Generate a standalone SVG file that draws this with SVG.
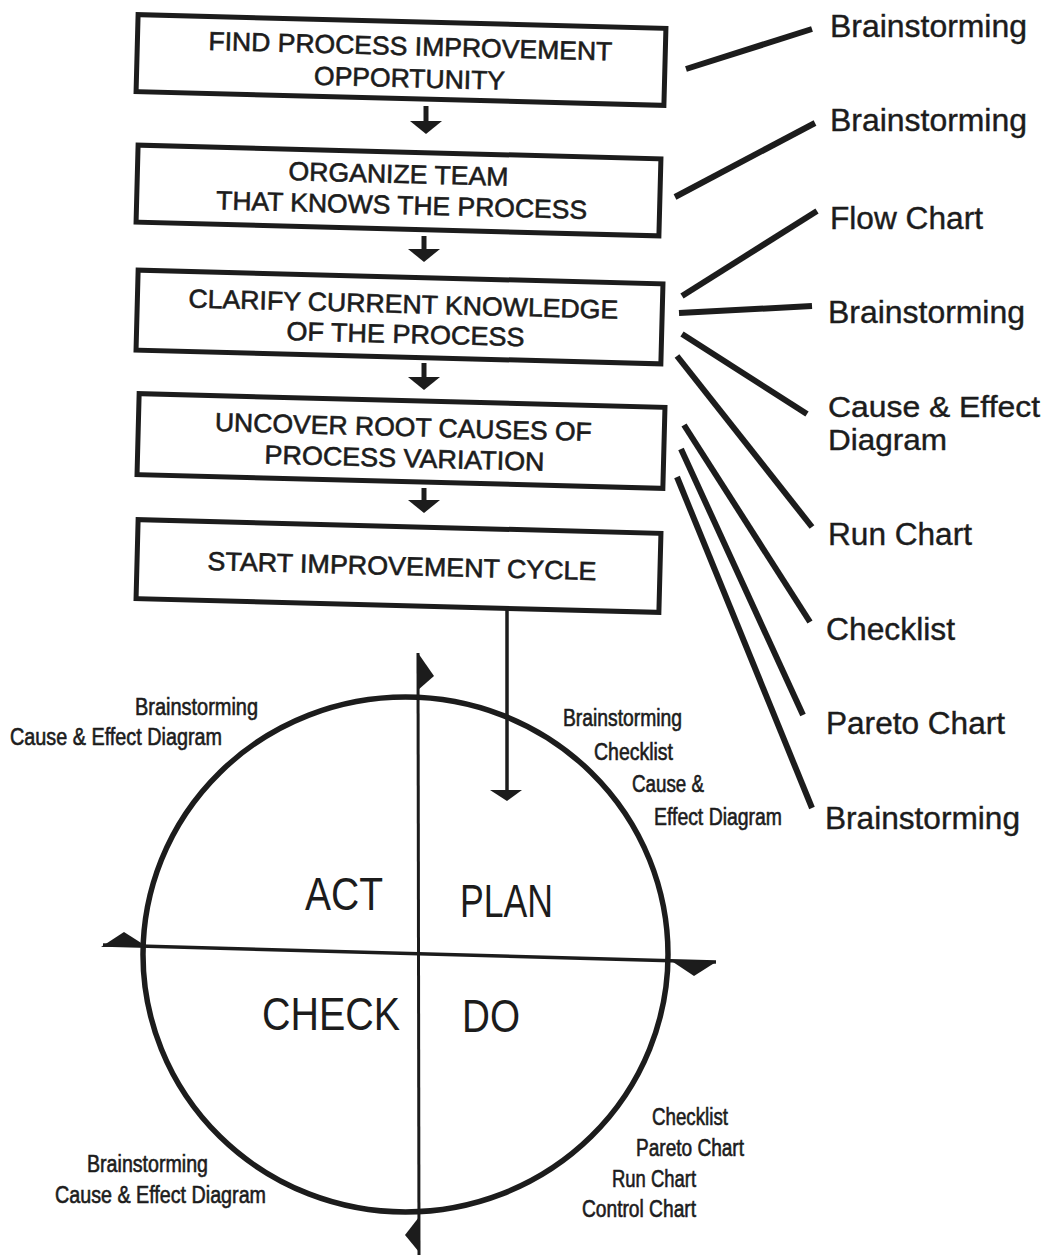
<svg xmlns="http://www.w3.org/2000/svg" width="1047" height="1255" viewBox="0 0 1047 1255">
  <style>
    .box { fill: #ffffff; stroke: #1c1c1c; stroke-width: 5; }
    .step { font-family: "Liberation Sans", Arial, sans-serif; font-size: 26px; fill: #1c1c1c; stroke: #1c1c1c; stroke-width: 0.6; text-anchor: middle; }
    .tool { font-family: "Liberation Sans", Arial, sans-serif; font-size: 31px; fill: #1c1c1c; stroke: #1c1c1c; stroke-width: 0.4; }
    .note { font-family: "Liberation Sans", Arial, sans-serif; font-size: 23px; fill: #1c1c1c; stroke: #1c1c1c; stroke-width: 0.6; }
    .phase { font-family: "Liberation Sans", Arial, sans-serif; font-size: 47px; fill: #1c1c1c; }
    .link { stroke: #1c1c1c; stroke-width: 6; fill: none; }
    .shaft { stroke: #1c1c1c; stroke-width: 5; fill: none; }
    .head { fill: #1c1c1c; }
  </style>
  <rect width="1047" height="1255" fill="#ffffff"/>

  <!-- process steps -->
  <g id="step-find" transform="rotate(1.5 401 60)">
    <rect class="box" x="137" y="21.5" width="528" height="77"/>
    <text class="step" x="410" y="55" textLength="404" lengthAdjust="spacingAndGlyphs">FIND PROCESS IMPROVEMENT</text>
    <text class="step" x="410" y="87" textLength="191" lengthAdjust="spacingAndGlyphs">OPPORTUNITY</text>
  </g>
  <g id="step-organize" transform="rotate(1.5 398.5 190.5)">
    <rect class="box" x="137" y="152" width="523" height="77"/>
    <text class="step" x="398" y="183" textLength="220" lengthAdjust="spacingAndGlyphs">ORGANIZE TEAM</text>
    <text class="step" x="402" y="214" textLength="371" lengthAdjust="spacingAndGlyphs">THAT KNOWS THE PROCESS</text>
  </g>
  <g id="step-clarify" transform="rotate(1.5 399.5 317)">
    <rect class="box" x="137" y="277" width="525" height="80"/>
    <text class="step" x="403" y="313" textLength="430" lengthAdjust="spacingAndGlyphs">CLARIFY CURRENT KNOWLEDGE</text>
    <text class="step" x="406" y="343" textLength="238" lengthAdjust="spacingAndGlyphs">OF THE PROCESS</text>
  </g>
  <g id="step-uncover" transform="rotate(1.5 401 441)">
    <rect class="box" x="138" y="400.5" width="526" height="81"/>
    <text class="step" x="403" y="436" textLength="377" lengthAdjust="spacingAndGlyphs">UNCOVER ROOT CAUSES OF</text>
    <text class="step" x="405" y="467" textLength="280" lengthAdjust="spacingAndGlyphs">PROCESS VARIATION</text>
  </g>
  <g id="step-start" transform="rotate(1.5 398.5 566)">
    <rect class="box" x="137" y="526.5" width="523" height="79"/>
    <text class="step" x="402" y="575" textLength="389" lengthAdjust="spacingAndGlyphs">START IMPROVEMENT CYCLE</text>
  </g>

  <!-- PDCA wheel -->
  <g id="cycle">
    <ellipse cx="405.5" cy="954.5" rx="262.5" ry="257.5" fill="none" stroke="#1c1c1c" stroke-width="5.5"/>
    <line x1="418" y1="653" x2="419" y2="1255" stroke="#1c1c1c" stroke-width="3"/>
    <line x1="103" y1="945" x2="716" y2="962" stroke="#1c1c1c" stroke-width="3.5"/>
    <polygon class="head" points="418,653 434,676 418,690"/>
    <polygon class="head" points="101,947 124,932 146,946"/>
    <polygon class="head" points="670,960 716,962 694,976"/>
    <polygon class="head" points="419,1217 405,1235 419,1252"/>
    <text class="phase" x="305" y="910" textLength="78" lengthAdjust="spacingAndGlyphs">ACT</text>
    <text class="phase" x="460" y="917" textLength="93" lengthAdjust="spacingAndGlyphs">PLAN</text>
    <text class="phase" x="262" y="1030" textLength="138" lengthAdjust="spacingAndGlyphs">CHECK</text>
    <text class="phase" x="462" y="1032" textLength="58" lengthAdjust="spacingAndGlyphs">DO</text>
  </g>

  <!-- tools per phase -->
  <g id="act-tools">
    <text class="note" x="135" y="715" textLength="123" lengthAdjust="spacingAndGlyphs">Brainstorming</text>
    <text class="note" x="10" y="745" textLength="212" lengthAdjust="spacingAndGlyphs">Cause &amp; Effect Diagram</text>
  </g>
  <g id="plan-tools">
    <text class="note" x="563" y="726" textLength="119" lengthAdjust="spacingAndGlyphs">Brainstorming</text>
    <text class="note" x="594" y="760" textLength="79" lengthAdjust="spacingAndGlyphs">Checklist</text>
    <text class="note" x="632" y="792" textLength="72" lengthAdjust="spacingAndGlyphs">Cause &amp;</text>
    <text class="note" x="654" y="825" textLength="128" lengthAdjust="spacingAndGlyphs">Effect Diagram</text>
  </g>
  <g id="do-tools">
    <text class="note" x="652" y="1125" textLength="76" lengthAdjust="spacingAndGlyphs">Checklist</text>
    <text class="note" x="636" y="1156" textLength="108" lengthAdjust="spacingAndGlyphs">Pareto Chart</text>
    <text class="note" x="612" y="1187" textLength="84" lengthAdjust="spacingAndGlyphs">Run Chart</text>
    <text class="note" x="582" y="1217" textLength="114" lengthAdjust="spacingAndGlyphs">Control Chart</text>
  </g>
  <g id="check-tools">
    <text class="note" x="87" y="1172" textLength="121" lengthAdjust="spacingAndGlyphs">Brainstorming</text>
    <text class="note" x="55" y="1203" textLength="211" lengthAdjust="spacingAndGlyphs">Cause &amp; Effect Diagram</text>
  </g>

  <!-- tools per step -->
  <g id="tool-brainstorming-1"><text class="tool" x="830" y="37" textLength="197" lengthAdjust="spacingAndGlyphs">Brainstorming</text></g>
  <g id="tool-brainstorming-2"><text class="tool" x="830" y="131" textLength="197" lengthAdjust="spacingAndGlyphs">Brainstorming</text></g>
  <g id="tool-flow-chart"><text class="tool" x="830" y="229" textLength="153" lengthAdjust="spacingAndGlyphs">Flow Chart</text></g>
  <g id="tool-brainstorming-3"><text class="tool" x="828" y="323" textLength="197" lengthAdjust="spacingAndGlyphs">Brainstorming</text></g>
  <g id="tool-cause-effect">
    <text class="tool" style="font-size:29px" x="828" y="417" textLength="212" lengthAdjust="spacingAndGlyphs">Cause &amp; Effect</text>
    <text class="tool" style="font-size:29px" x="828" y="450" textLength="119" lengthAdjust="spacingAndGlyphs">Diagram</text>
  </g>
  <g id="tool-run-chart"><text class="tool" x="828" y="545" textLength="144" lengthAdjust="spacingAndGlyphs">Run Chart</text></g>
  <g id="tool-checklist"><text class="tool" x="826" y="640" textLength="129" lengthAdjust="spacingAndGlyphs">Checklist</text></g>
  <g id="tool-pareto"><text class="tool" x="826" y="734" textLength="179" lengthAdjust="spacingAndGlyphs">Pareto Chart</text></g>
  <g id="tool-brainstorming-4"><text class="tool" x="825" y="829" textLength="195" lengthAdjust="spacingAndGlyphs">Brainstorming</text></g>

  <!-- connectors -->
  <g id="connectors">
    <line class="shaft" x1="426" y1="106" x2="426" y2="124"/>
    <polygon class="head" points="410,121 442,121 426,134"/>
    <line class="shaft" x1="424" y1="236" x2="424" y2="252"/>
    <polygon class="head" points="408,249 440,249 424,262"/>
    <line class="shaft" x1="424" y1="363" x2="424" y2="380"/>
    <polygon class="head" points="408,377 440,377 424,390"/>
    <line class="shaft" x1="424" y1="488" x2="424" y2="503"/>
    <polygon class="head" points="408,500 440,500 424,513"/>
    <line x1="507" y1="608" x2="507" y2="792" stroke="#1c1c1c" stroke-width="3.5"/>
    <polygon class="head" points="490,790 522,790 507,801"/>

    <line class="link" x1="686" y1="69" x2="812" y2="29"/>
    <line class="link" x1="675" y1="197" x2="815" y2="123"/>
    <line class="link" x1="682" y1="296" x2="817" y2="211"/>
    <line class="link" x1="679" y1="313" x2="812" y2="306"/>
    <line class="link" x1="682" y1="334" x2="807" y2="414"/>
    <line class="link" x1="677" y1="356" x2="812" y2="527"/>
    <line class="link" x1="684" y1="425" x2="810" y2="622"/>
    <line class="link" x1="681" y1="449" x2="803" y2="715"/>
    <line class="link" x1="677" y1="477" x2="812" y2="808"/>
  </g>
</svg>
